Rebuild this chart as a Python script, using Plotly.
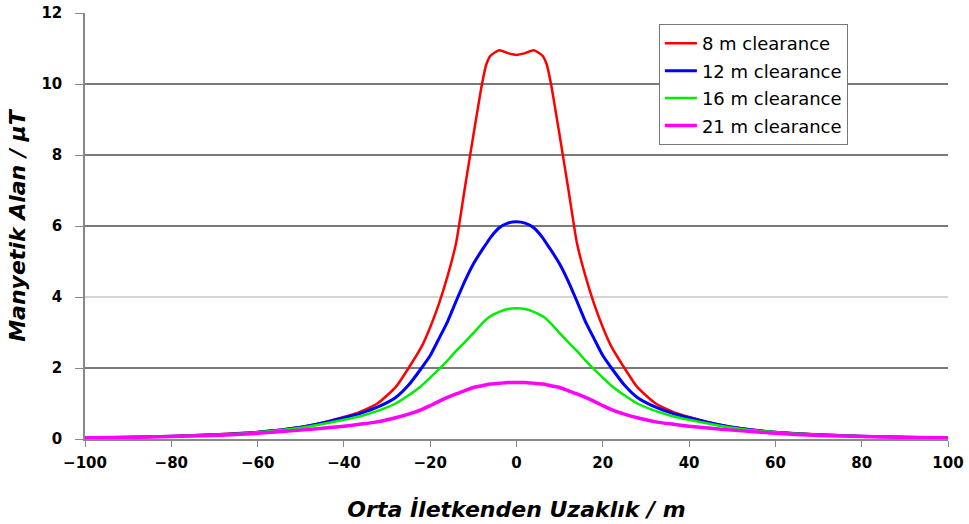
import plotly.graph_objects as go

# Distance from the middle conductor (m), half-profile mirrored below
x_half = [0, 2, 4, 6, 7, 8, 10, 12, 14, 16, 18, 20, 22, 25, 28, 32, 36, 40, 45, 50, 60, 70, 80, 90, 100]

red_half = [10.82, 10.87, 10.95, 10.80, 10.55, 10.0, 8.55, 7.05, 5.52, 4.58, 3.80, 3.15, 2.60, 2.00, 1.46, 1.02, 0.78, 0.62, 0.46, 0.34, 0.20, 0.13, 0.08, 0.05, 0.03]
blue_half = [6.12, 6.08, 5.95, 5.68, 5.50, 5.32, 4.93, 4.44, 3.88, 3.30, 2.82, 2.35, 2.00, 1.52, 1.17, 0.91, 0.73, 0.60, 0.45, 0.33, 0.19, 0.12, 0.08, 0.05, 0.03]
green_half = [3.68, 3.66, 3.58, 3.46, 3.37, 3.25, 2.98, 2.73, 2.48, 2.21, 1.96, 1.73, 1.50, 1.23, 1.00, 0.80, 0.65, 0.54, 0.42, 0.32, 0.19, 0.12, 0.08, 0.05, 0.03]
magenta_half = [1.59, 1.59, 1.57, 1.55, 1.53, 1.50, 1.45, 1.36, 1.27, 1.17, 1.06, 0.94, 0.83, 0.70, 0.60, 0.49, 0.42, 0.36, 0.30, 0.25, 0.16, 0.10, 0.07, 0.05, 0.03]

names = ["8 m clearance", "12 m clearance", "16 m clearance", "21 m clearance"]
colors = ["#ff0000", "#0000ff", "#00ee00", "#ff00ff"]
widths = [2.5, 3, 2.5, 3.5]

x_ticks = [-100, -80, -60, -40, -20, 0, 20, 40, 60, 80, 100]
y_ticks = [0, 2, 4, 6, 8, 10, 12]
grid_levels = [2, 4, 6, 8, 10]
grid_colors = ["#7a7a7a", "#d4d4d4", "#7a7a7a", "#7a7a7a", "#7a7a7a"]


def mirror(xs, ys):
    xx = [-v for v in reversed(xs[1:])] + xs
    yy = list(reversed(ys[1:])) + ys
    return xx, yy


fig = go.Figure()
for i, (nm, col, w, half) in enumerate(zip(names, colors, widths,
                                        [red_half, blue_half, green_half, magenta_half])):
    xx, yy = mirror(x_half, half)
    fig.add_trace(go.Scatter(x=xx, y=yy, mode="lines", name=nm,
                             legendgroup=f"g{i}",
                             line=dict(color=col, width=w, shape="spline", smoothing=0.5)))

for g, gc in zip(grid_levels, grid_colors):
    fig.add_shape(type="line", xref="paper", x0=0, x1=1, yref="y", y0=g, y1=g,
                  line=dict(color=gc, width=2), layer="below")

font_family = "DejaVu Sans, Liberation Sans, Arial, sans-serif"

fig.update_layout(
    width=969, height=524,
    margin=dict(l=85, r=21, t=13, b=85),
    paper_bgcolor="white", plot_bgcolor="white",
    font=dict(family=font_family, color="black"),
    showlegend=True,
    legend=dict(x=0.665, y=0.974, xanchor="left", yanchor="top",
                bgcolor="white", bordercolor="#777777", borderwidth=1,
                font=dict(size=18, color="black"),
                tracegroupgap=1, itemwidth=32),
    xaxis=dict(range=[-100, 100], tickvals=x_ticks, showgrid=False, zeroline=False,
               automargin=False,
               showline=True, linecolor="#888888", linewidth=1.5,
               ticks="outside", ticklen=6, tickcolor="#888888",
               ticklabelstandoff=3,
               tickfont=dict(size=15, weight="bold"),
               title=dict(text="Orta İletkenden Uzaklık / m",
                          font=dict(size=22, style="italic", weight="bold"), standoff=31)),
    yaxis=dict(range=[0, 12], tickvals=y_ticks, showgrid=False, zeroline=False,
               automargin=False,
               showline=True, linecolor="#888888", linewidth=1.5,
               ticks="outside", ticklen=8, tickcolor="#888888",
               ticklabelstandoff=10,
               tickfont=dict(size=15, weight="bold"),
               title=dict(text="Manyetik Alan / μT",
                          font=dict(size=22, style="italic", weight="bold"), standoff=10)),
)

fig.write_html("out.html", post_script="document.body.style.margin='0';",
               config={"displayModeBar": False})
